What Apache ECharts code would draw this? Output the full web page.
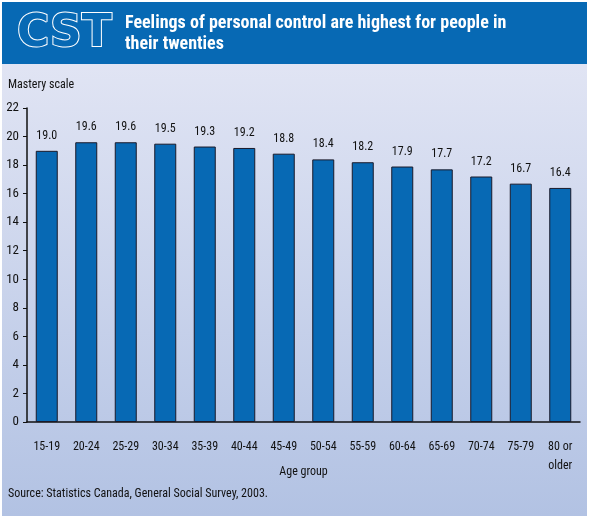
<!DOCTYPE html>
<html>
<head>
<meta charset="utf-8">
<script src="https://cdn.jsdelivr.net/npm/echarts@6/dist/echarts.min.js"></script>
<style>
  html, body { margin: 0; padding: 0; background: #fff; }
  #chart { width: 589px; height: 518px; }
</style>
</head>
<body>
<div id="chart"></div>
<script>
  // age groups and mastery scale values
  const ageGroups = ['15-19', '20-24', '25-29', '30-34', '35-39', '40-44', '45-49',
    '50-54', '55-59', '60-64', '65-69', '70-74', '75-79', '80 or\nolder']
  const mastery = [19.0, 19.6, 19.6, 19.5, 19.3, 19.2, 18.8, 18.4, 18.2, 17.9, 17.7, 17.2, 16.7, 16.4]
  const yTicks = { min: 0, max: 22, interval: 2 }

  const font = '"Liberation Sans Narrow", "Roboto Condensed", "Liberation Sans", sans-serif'
  const chart = echarts.init(document.getElementById('chart'))

  chart.setOption({
    animation: false,
    graphic: [
      // page background
      {
        type: 'rect', z: -10, silent: true,
        shape: { x: 2, y: 2, width: 585, height: 514 },
        style: {
          fill: new echarts.graphic.LinearGradient(0, 0, 0, 1, [
            { offset: 0, color: '#e7e9f6' },
            { offset: 1, color: '#b2c2e3' }
          ])
        }
      },
      // header band
      {
        type: 'rect', z: -5, silent: true,
        shape: { x: 2, y: 2, width: 585, height: 62 },
        style: { fill: '#0769b4' }
      },
      {
        type: 'text', left: 16, top: 12,
        style: {
          text: 'CST', fill: '#0769b4', stroke: '#fff', lineWidth: 2,
          font: 'bold 44px "DejaVu Sans", sans-serif'
        }
      },
      {
        type: 'text', left: 125, top: 13,
        style: {
          text: 'Feelings of personal control are highest for people in\ntheir twenties',
          fill: '#fff', lineHeight: 21,
          font: 'bold 18px ' + font
        }
      },
      {
        type: 'text', left: 8, top: 79,
        style: { text: 'Mastery scale', fill: '#111', font: '12px ' + font }
      },
      {
        type: 'text', left: 8, top: 488,
        style: { text: 'Source: Statistics Canada, General Social Survey, 2003.', fill: '#111', font: '12px ' + font }
      }
    ],
    grid: {
      left: 27,
      right: 9,
      top: 108,
      bottom: 96,
      containLabel: false
    },
    xAxis: {
      type: 'category',
      data: ageGroups,
      name: 'Age group',
      nameLocation: 'middle',
      nameGap: 44,
      nameMoveOverlap: false,
      nameTextStyle: { color: '#111', fontFamily: font, fontSize: 12 },
      axisLine: { lineStyle: { color: '#111', width: 1.5 } },
      axisTick: { inside: true, length: 5, lineStyle: { color: '#111' } },
      axisLabel: {
        color: '#111', fontFamily: font, fontSize: 12, margin: 15, lineHeight: 19,
        interval: 0
      }
    },
    yAxis: {
      type: 'value',
      min: yTicks.min,
      max: yTicks.max,
      interval: yTicks.interval,
      axisLine: { show: true, lineStyle: { color: '#111', width: 1.5 } },
      axisTick: { show: true, length: 4, lineStyle: { color: '#111' } },
      axisLabel: { color: '#111', fontFamily: font, fontSize: 13, margin: 8 },
      splitLine: { show: false }
    },
    series: [{
      type: 'bar',
      data: mastery,
      barWidth: 22,
      itemStyle: { color: '#0769b4', borderColor: '#1a1a2a', borderWidth: 1 },
      label: {
        show: true,
        position: 'top',
        distance: 9,
        color: '#111',
        fontFamily: font,
        fontSize: 12,
        formatter: p => p.value.toFixed(1)
      }
    }]
  })
</script>
</body>
</html>
